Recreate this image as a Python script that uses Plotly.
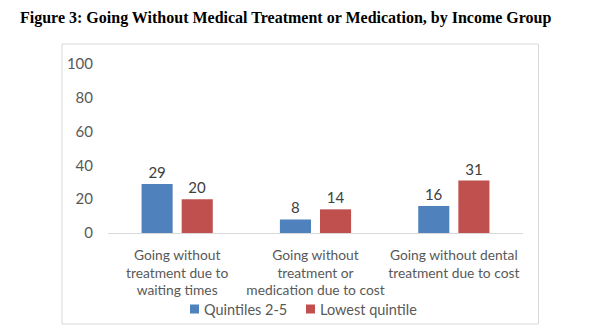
import plotly.graph_objects as go

categories = [
    "Going without<br>treatment due to<br>waiting times",
    "Going without<br>treatment or<br>medication due to cost",
    "Going without dental<br>treatment due to cost",
]
quintiles_2_5 = [29, 8, 16]
lowest_quintile = [20, 14, 31]
series_names = ["Quintiles 2-5", "Lowest quintile"]
colors = ["#4F81BD", "#C0504D"]

W, H = 597, 336
L, R, T, B = 108, 74, 64, 103
pw = W - L - R
ph = H - T - B

font_family = "Lato, 'Open Sans', sans-serif"

fig = go.Figure()
for name, vals, col in zip(series_names, [quintiles_2_5, lowest_quintile], colors):
    fig.add_trace(go.Bar(
        x=categories, y=vals, name=name, marker_color=col, marker_line_width=0,
        text=[str(v) for v in vals], textposition="outside", cliponaxis=False,
        textfont=dict(size=15, color="#404040", family=font_family),
        showlegend=False,
    ))

def px_x(px):
    return (px - L) / pw

def px_y(py):
    return (H - B - py) / ph

fig.add_shape(type="rect", xref="paper", yref="paper",
              x0=px_x(62), x1=px_x(538.5), y0=px_y(324), y1=px_y(44),
              line=dict(color="#D9D9D9", width=1), fillcolor="rgba(0,0,0,0)", layer="below")

# manual legend (Excel-style tight spacing)
legend_sq_x = [190, 306]
for name, col, sx in zip(series_names, colors, legend_sq_x):
    fig.add_shape(type="rect", xref="paper", yref="paper",
                  x0=px_x(sx), x1=px_x(sx + 9), y0=px_y(313.5), y1=px_y(304.5),
                  line=dict(width=0), fillcolor=col)
    fig.add_annotation(text=name, xref="paper", yref="paper", x=px_x(sx + 12), y=px_y(309),
                       xanchor="left", yanchor="middle", showarrow=False,
                       font=dict(size=14.5, color="#595959", family=font_family))

fig.update_layout(
    width=W, height=H,
    margin=dict(l=L, r=R, t=T, b=B, autoexpand=False),
    paper_bgcolor="white", plot_bgcolor="white",
    font=dict(family=font_family, size=15, color="#595959"),
    barmode="group", bargap=0.42, bargroupgap=0.225,
    title=dict(
        text="<b>Figure 3: Going Without Medical Treatment or Medication, by Income Group</b>",
        font=dict(family="'Liberation Serif', 'Times New Roman', serif", size=16, color="black"),
        x=20 / W, xanchor="left", xref="container",
        y=1 - 17 / H, yanchor="middle", yref="container",
    ),
    showlegend=False,
    xaxis=dict(showline=True, linecolor="#D9D9D9", linewidth=1, showgrid=False, ticks="",
               tickangle=0, automargin=False, ticklabelstandoff=9,
               tickfont=dict(size=13.8, color="#595959")),
    yaxis=dict(range=[0, 100], dtick=20, showgrid=False, zeroline=False, showline=False,
               automargin=False, ticks="", ticklabelstandoff=14,
               tickfont=dict(size=15, color="#595959")),
)

fig.write_html("out.html")
